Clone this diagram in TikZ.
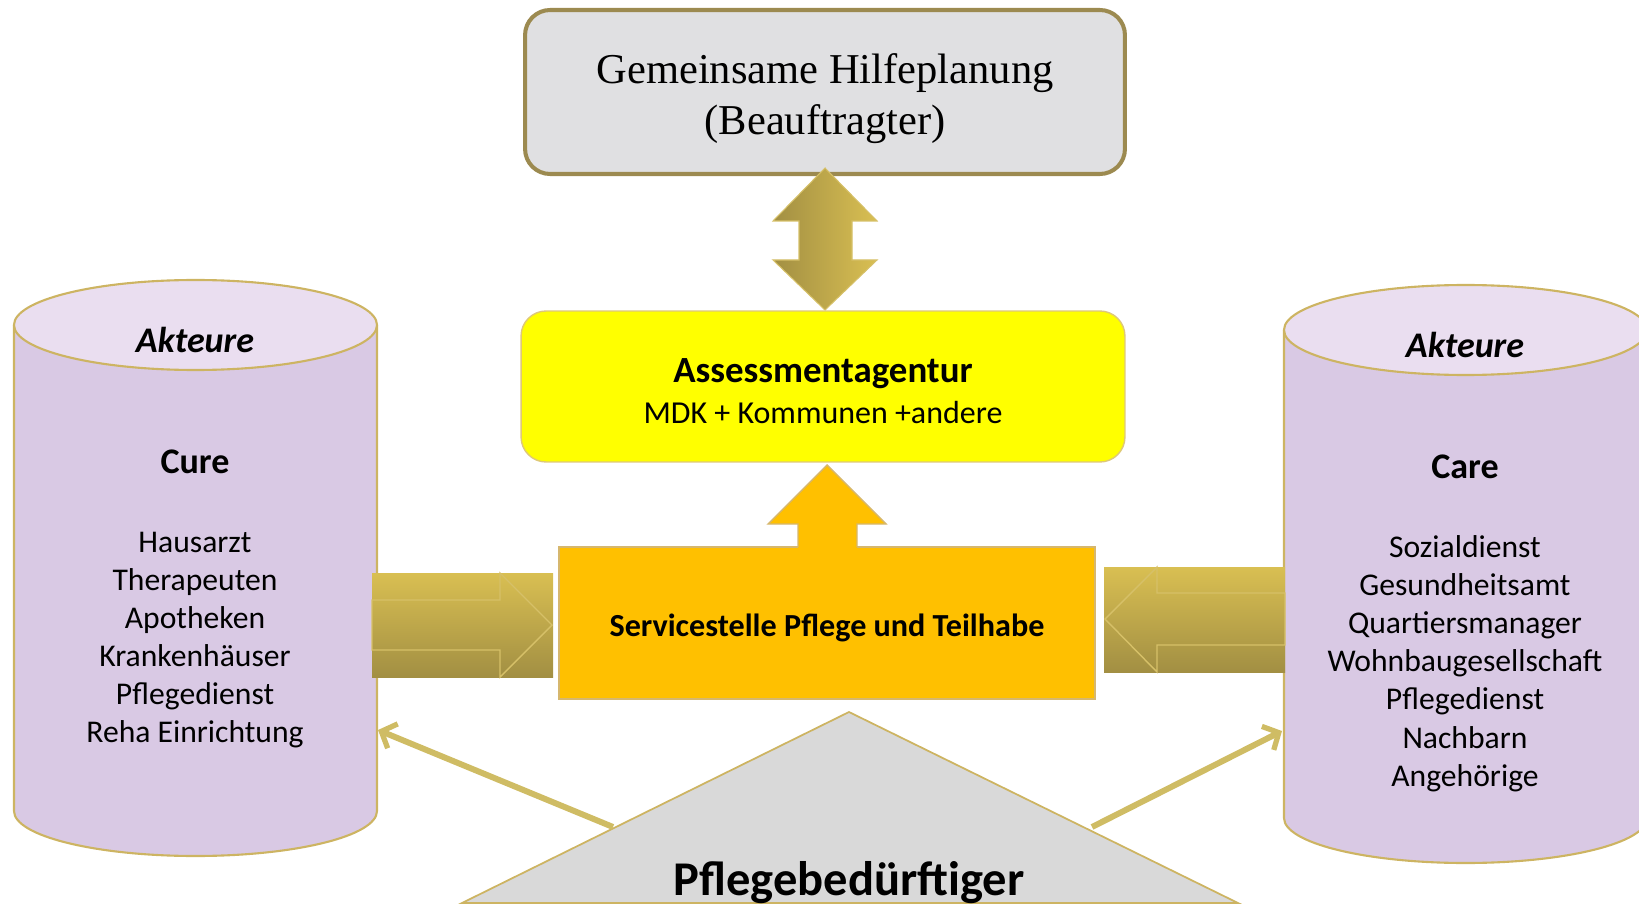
\documentclass[tikz,border=0pt]{standalone}
\usepackage{fontspec}
\setmainfont{Carlito}
\newfontfamily\serifface{Liberation Serif}
\usetikzlibrary{positioning, arrows.meta}

\definecolor{planfill}{RGB}{224,224,226}
\definecolor{planline}{RGB}{156,138,80}
\definecolor{assessfill}{RGB}{255,255,0}
\definecolor{assessline}{RGB}{222,200,120}
\definecolor{servicefill}{RGB}{255,192,0}
\definecolor{serviceline}{RGB}{214,183,110}
\definecolor{cylbody}{RGB}{217,201,228}
\definecolor{cyltop}{RGB}{234,222,240}
\definecolor{cylline}{RGB}{205,180,98}
\definecolor{trifill}{RGB}{217,217,217}
\definecolor{linkcol}{RGB}{207,188,100}
\definecolor{goldlight}{RGB}{217,191,82}
\definecolor{golddark}{RGB}{162,143,67}
\definecolor{goldedge}{RGB}{214,192,104}

\begin{document}
\begin{tikzpicture}[
    x=0.02cm, y=0.02cm,
    box/.style={
        draw,
        rounded corners=0.5cm,
        align=center,
        inner sep=0pt
    },
    cyl/.style={
        draw=cylline,
        line width=1.2pt
    },
    itemlist/.style={
        align=center,
        inner sep=0pt,
        font=\fontsize{18pt}{21.7pt}\selectfont
    },
    headline/.style={
        inner sep=0pt,
        font=\fontsize{20.5pt}{24pt}\selectfont\bfseries
    },
    link/.style={
        -{Straight Barb[length=7pt, width=15pt, line width=3pt]},
        draw=linkcol,
        line width=3.4pt
    }
]

\useasboundingbox (0,0) rectangle (1639,-905);

% Top box
\node (plan) at (825,-92) [box, fill=planfill, draw=planline, line width=2.3pt,
    minimum width=12cm, minimum height=3.28cm] {};
\node (planText) at (825,-99) [align=center, inner sep=0pt,
    font=\serifface\fontsize{24.2pt}{28.9pt}\selectfont]
    {Gemeinsame Hilfeplanung \\ (Beauftragter)};

% Middle boxes
\node (assess) at (823,-386.5) [box, fill=assessfill, draw=assessline, line width=0.8pt,
    minimum width=12.08cm, minimum height=3.02cm] {};
\node (assessText) at (823,-391) [align=center, inner sep=0pt,
    font=\fontsize{18.2pt}{23pt}\selectfont]
    {{\fontsize{21pt}{23pt}\selectfont\bfseries Assessmentagentur} \\ MDK + Kommunen +andere};
\node (service) at (827,-623) [draw=serviceline, fill=servicefill, line width=0.8pt,
    minimum width=10.72cm, minimum height=3.04cm] {};
\node (serviceText) at (827,-628) [inner sep=0pt,
    font=\fontsize{18.3pt}{21.7pt}\selectfont\bfseries]
    {Servicestelle Pflege und Teilhabe};

% Double arrow between plan and assessment
\shade[left color=golddark, right color=goldlight, draw=goldedge, line width=0.6pt]
    (825,-168) -- (877,-221) -- (852,-221) -- (852,-260) -- (877,-260) -- (825,-310)
    -- (773,-260) -- (799,-260) -- (799,-221) -- (773,-221) -- cycle;

% Up arrow from service to assessment
\fill[servicefill] (827,-465) -- (886,-524) -- (857,-524) -- (857,-552)
    -- (798,-552) -- (798,-524) -- (768,-524) -- cycle;
\draw[serviceline, line width=0.8pt] (798,-547) -- (798,-524) -- (768,-524) -- (827,-465)
    -- (886,-524) -- (857,-524) -- (857,-547);

% Left cylinder (Cure)
\fill[cylbody] (14,-325) -- (14,-811) arc[start angle=180, end angle=360, x radius=181.5, y radius=45] -- (377,-325) -- cycle;
\draw[cyl] (14,-325) -- (14,-811) arc[start angle=180, end angle=360, x radius=181.5, y radius=45] -- (377,-325);
\draw[cyl, fill=cyltop] (195.5,-325) ellipse[x radius=181.5, y radius=45];

% Right cylinder (Care)
\fill[cylbody] (1284,-330) -- (1284,-818) arc[start angle=180, end angle=360, x radius=181.5, y radius=45] -- (1647,-330) -- cycle;
\draw[cyl] (1284,-330) -- (1284,-818) arc[start angle=180, end angle=360, x radius=181.5, y radius=45] -- (1647,-330);
\draw[cyl, fill=cyltop] (1465.5,-330) ellipse[x radius=181.5, y radius=45];

% Cylinder texts
\node (cureHead) at (195,-340) [headline, font=\fontsize{20.5pt}{24pt}\selectfont\bfseries\itshape] {Akteure};
\node (cureTitle) at (195,-462) [headline] {Cure};
\node (cureList) at (195,-640) [itemlist]
    {Hausarzt \\ Therapeuten \\ Apotheken \\ Krankenhäuser \\ Pflegedienst \\ Reha Einrichtung};
\node (careHead) at (1465,-345) [headline, font=\fontsize{20.5pt}{24pt}\selectfont\bfseries\itshape] {Akteure};
\node (careTitle) at (1465,-467) [headline] {Care};
\node (careList) at (1465,-663.5) [itemlist]
    {Sozialdienst \\ Gesundheitsamt \\ Quartiersmanager \\ Wohnbaugesellschaft \\ Pflegedienst \\ Nachbarn \\ Angehörige};

% Block arrows towards the service box
\shade[top color=goldlight, bottom color=golddark] (372,-573) rectangle (553,-677);
\draw[goldedge, line width=0.8pt] (372,-600) -- (500,-600) -- (500,-573) -- (552,-625)
    -- (500,-677) -- (500,-650) -- (372,-650) -- cycle;
\shade[top color=goldlight, bottom color=golddark] (1104,-567) rectangle (1285,-672);
\draw[goldedge, line width=0.8pt] (1105,-619) -- (1157,-567) -- (1157,-593) -- (1285,-593)
    -- (1285,-645) -- (1157,-645) -- (1157,-672) -- cycle;

% Bottom triangle
\draw[fill=trifill, draw=cylline, line width=1pt] (849,-712) -- (1238,-903) -- (462,-903) -- cycle;
\node (client) at (849,-895) [anchor=base, inner sep=0pt,
    font=\fontsize{27.6pt}{30pt}\selectfont\bfseries] {Pflegebedürftiger};

% Connectors
\coordinate (triLeft) at (613,-827);
\coordinate (triRight) at (1092,-827);
\coordinate (cureSide) at (378,-730);
\coordinate (careSide) at (1282,-731);
\draw [link] (triLeft) -- (cureSide);
\draw [link] (triRight) -- (careSide);

\end{tikzpicture}
\end{document}
